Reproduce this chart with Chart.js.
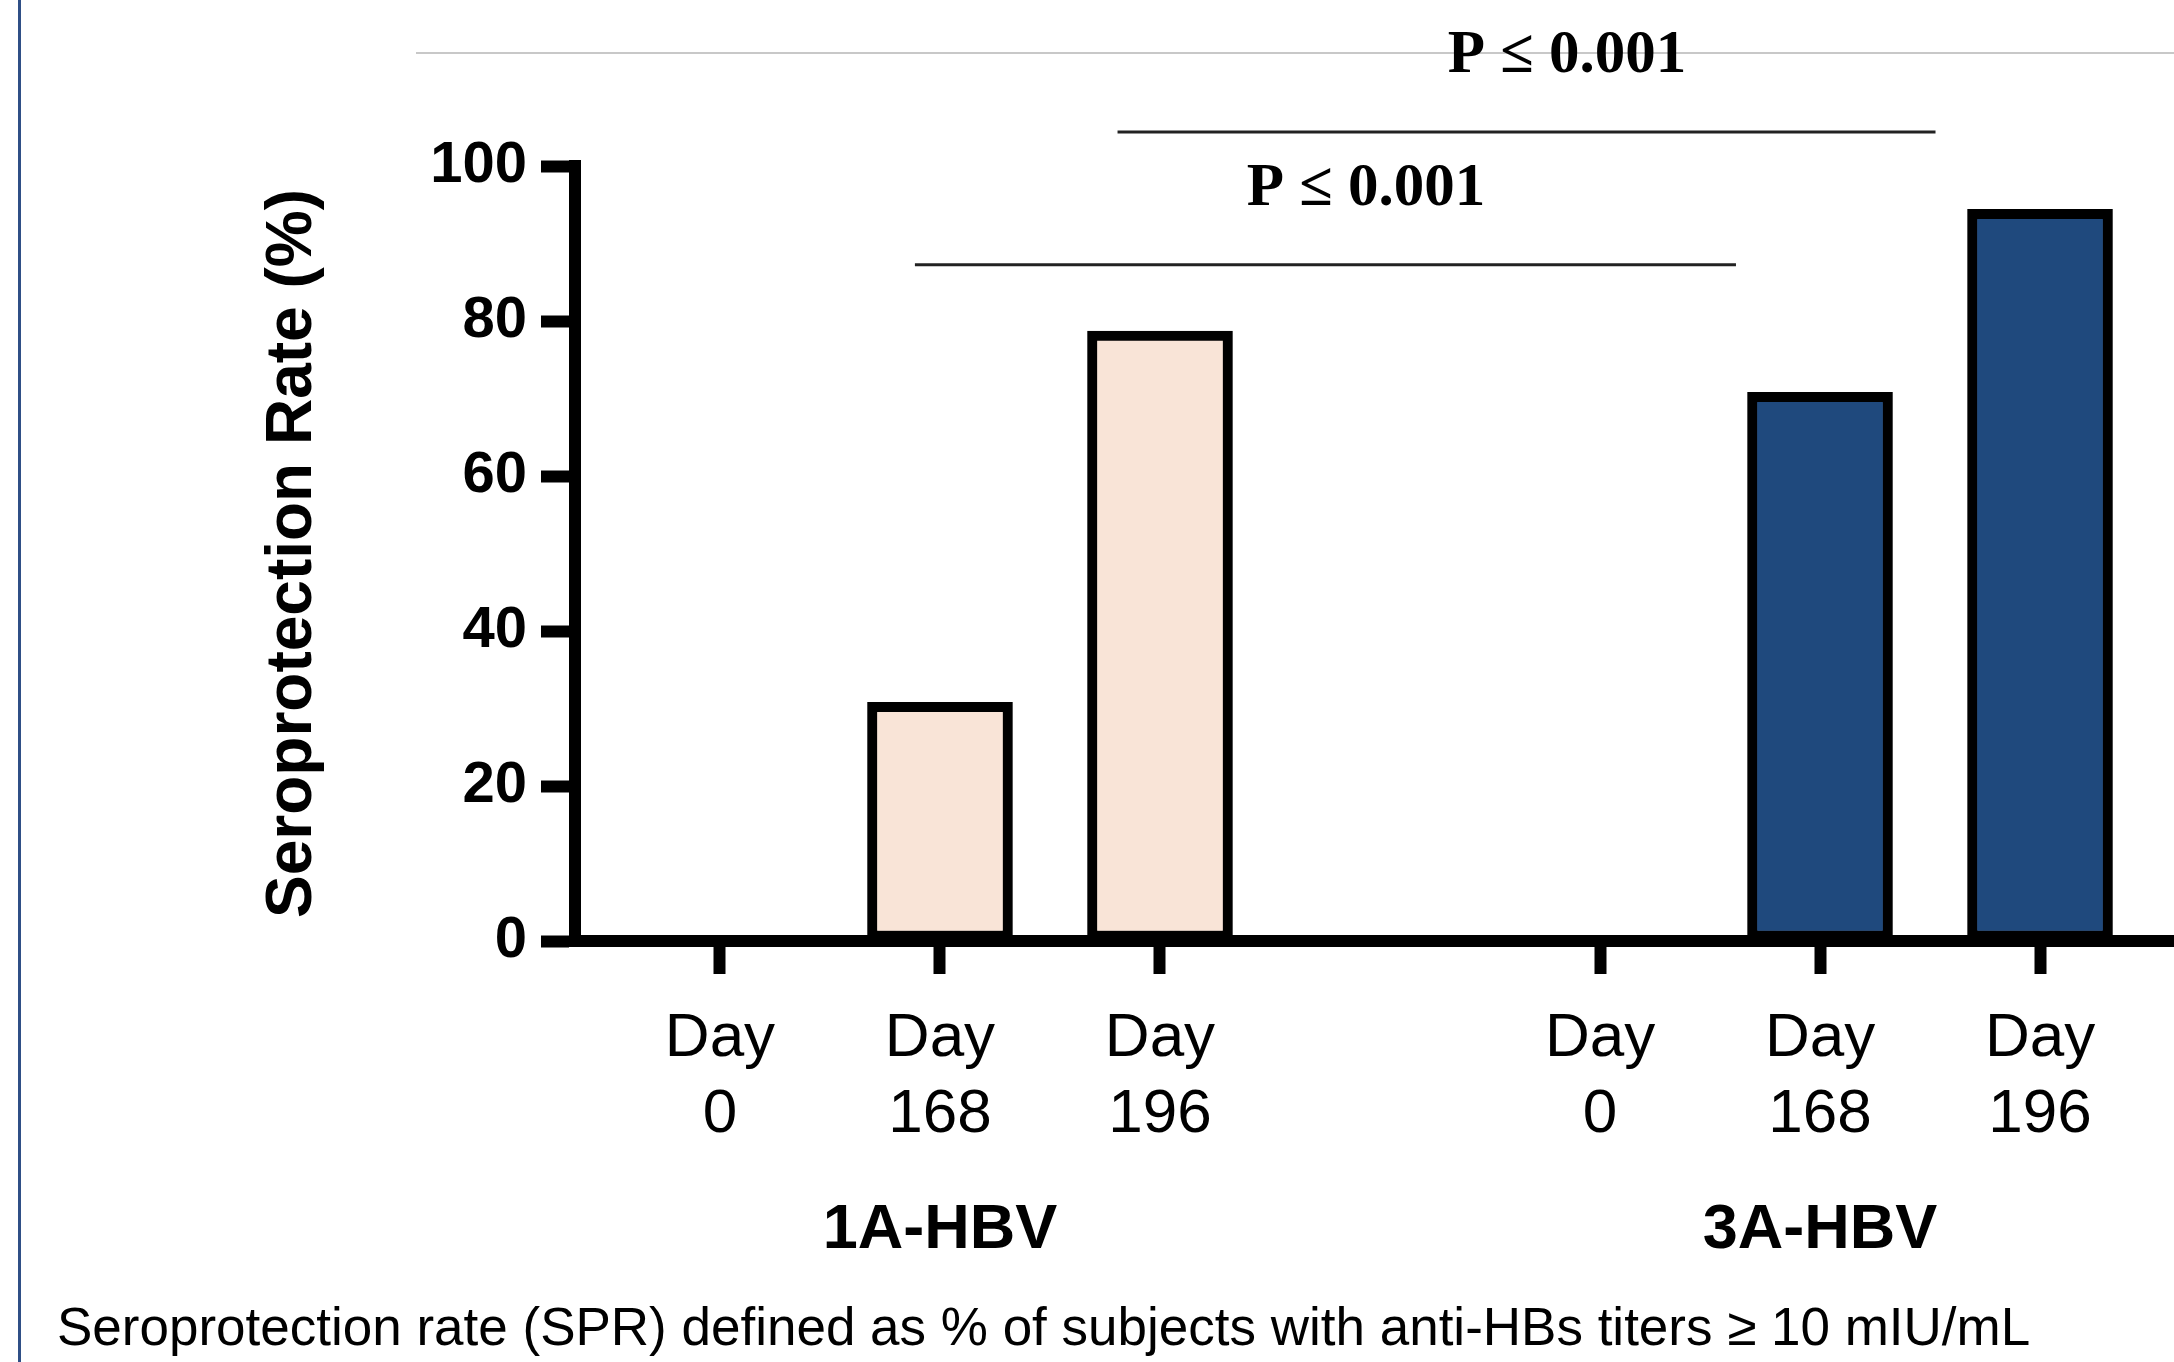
<!DOCTYPE html>
<html>
<head>
<meta charset="utf-8">
<script src="https://cdn.jsdelivr.net/npm/chart.js@4.4.0/dist/chart.umd.min.js"></script>
<style>
  html, body { margin: 0; padding: 0; background: #fff; }
  #wrap { position: relative; width: 2174px; height: 1362px; overflow: hidden; }
  #edge { position: absolute; left: 18px; top: 0; width: 3px; height: 1362px; background: #2f4f86; }
  #rule { position: absolute; left: 416px; top: 52px; right: 0; height: 2px; background: #c8c8c8; }
  canvas { position: absolute; left: 0; top: 0; }
</style>
</head>
<body>
<div id="wrap">
  <div id="edge"></div>
  <div id="rule"></div>
  <canvas id="spr-chart" width="2174" height="1362"></canvas>
</div>
<script>
// data
const groups = ["1A-HBV", "3A-HBV"];
const days = ["0", "168", "196"];
const rate1A = [0, 30.8, 78.7];
const rate3A = [0, 70.8, 94.4];
const yTicks = [0, 20, 40, 60, 80, 100];
const pValues = ["P \u2264 0.001", "P \u2264 0.001"];
const caption = "Seroprotection rate (SPR) defined as % of subjects with anti-HBs titers \u2265 10 mIU/mL";

// each group takes 3 slots, plus one empty slot between groups
function slot(g, d) { return g * 4 + d; }

function points(values, g) {
  return values.map((v, d) => ({ x: slot(g, d), y: v }));
}

var xTickValues = [];
groups.forEach((g, gi) => days.forEach((d, di) => xTickValues.push(slot(gi, di))));

// significance bars (x in slot units, y in % units)
const brackets = [
  { from: 0.886, to: 4.618, y: 87.25, textX: 2.936, textY: 95.0, text: pValues[0] },
  { from: 1.807, to: 5.525, y: 104.4, textX: 3.85, textY: 112.1, text: pValues[1] }
];

const annotations = {
  id: "annotations",
  afterDraw(chart) {
    const ctx = chart.ctx;
    const x = chart.scales.x, y = chart.scales.y;
    ctx.save();
    // p-value brackets
    brackets.forEach(b => {
      ctx.strokeStyle = "#222";
      ctx.lineWidth = 3;
      ctx.beginPath();
      ctx.moveTo(x.getPixelForValue(b.from), y.getPixelForValue(b.y));
      ctx.lineTo(x.getPixelForValue(b.to), y.getPixelForValue(b.y));
      ctx.stroke();
      ctx.fillStyle = "#000";
      ctx.font = "bold 61px 'Liberation Serif', 'Times New Roman', serif";
      ctx.textAlign = "center";
      ctx.textBaseline = "alphabetic";
      ctx.fillText(b.text, x.getPixelForValue(b.textX), y.getPixelForValue(b.textY));
    });
    // group names under the middle tick of each group
    ctx.font = "bold 63px 'Liberation Sans', Arial, sans-serif";
    ctx.textAlign = "center";
    groups.forEach((g, gi) => {
      ctx.fillText(g, x.getPixelForValue(slot(gi, 1)), 1248);
    });
    // footnote
    ctx.font = "53px 'Liberation Sans', Arial, sans-serif";
    ctx.textAlign = "left";
    ctx.fillText(caption, 57, 1345);
    ctx.restore();
  }
};

const config = {
  type: "bar",
  data: {
    datasets: [
      {
        label: groups[0],
        data: points(rate1A, 0),
        backgroundColor: "#F9E4D7",
        borderColor: "#000",
        borderWidth: 10,
        borderSkipped: false,
        barThickness: 145,
        grouped: false
      },
      {
        label: groups[1],
        data: points(rate3A, 1),
        backgroundColor: "#1F497D",
        borderColor: "#000",
        borderWidth: 10,
        borderSkipped: false,
        barThickness: 145,
        grouped: false
      }
    ]
  },
  options: {
    responsive: false,
    animation: false,
    devicePixelRatio: 1,
    layout: { padding: { top: 166, left: 0, right: 0, bottom: 0 } },
    plugins: {
      legend: { display: false },
      tooltip: { enabled: false }
    },
    scales: {
      x: {
        type: "linear",
        offset: false,
        min: -0.659,
        max: 6.609,
        afterBuildTicks: scale => { scale.ticks = xTickValues.map(v => ({ value: v })); },
        afterFit: scale => { scale.height = 1362 - 941; },
        grid: {
          offset: false,
          drawOnChartArea: false,
          drawTicks: true,
          tickLength: 33,
          tickWidth: 12,
          tickColor: "#000"
        },
        border: { display: true, width: 12, color: "#000" },
        ticks: {
          autoSkip: false,
          maxRotation: 0,
          padding: 27,
          color: "#000",
          font: { family: "'Liberation Sans', Arial, sans-serif", size: 62, lineHeight: 1.23 },
          callback: value => ["Day", days[value % 4]]
        }
      },
      y: {
        min: 0,
        max: 100,
        afterBuildTicks: scale => { scale.ticks = yTicks.map(v => ({ value: v })); },
        afterFit: scale => { scale.width = 575; },
        grid: {
          drawOnChartArea: false,
          drawTicks: true,
          tickLength: 34,
          tickWidth: 12,
          tickColor: "#000"
        },
        border: { display: true, width: 12, color: "#000" },
        ticks: {
          padding: 14,
          color: "#000",
          font: { family: "'Liberation Sans', Arial, sans-serif", size: 58, weight: "bold" }
        },
        title: {
          display: true,
          text: "Seroprotection Rate (%)",
          color: "#000",
          font: { family: "'Liberation Sans', Arial, sans-serif", size: 64, weight: "bold" },
          padding: { top: 255, bottom: 0 }
        }
      }
    }
  },
  plugins: [annotations]
};

new Chart(document.getElementById("spr-chart").getContext("2d"), config);
</script>
</body>
</html>
